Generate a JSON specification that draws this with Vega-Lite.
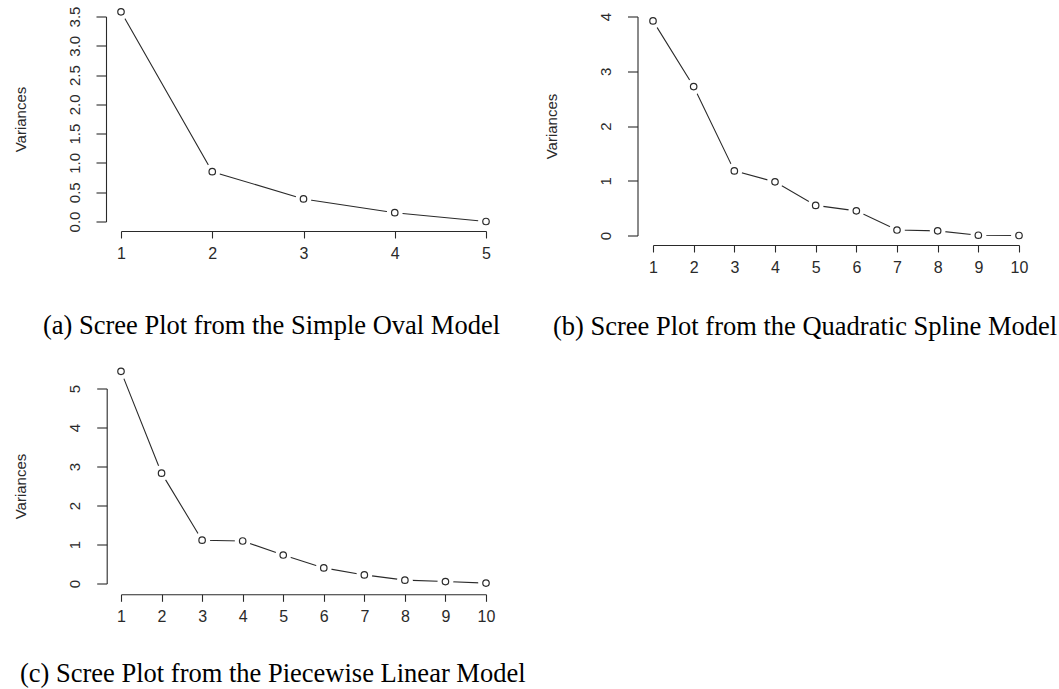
{
  "$schema": "https://vega.github.io/schema/vega-lite/v6.json",
  "background": "white",
  "padding": {"left": 13, "top": 3.5, "right": 5, "bottom": 5},
  "config": {
    "view": {"stroke": null},
    "axis": {"domainColor": "#2a2a2a", "tickColor": "#2a2a2a", "labelColor": "#2a2a2a", "titleColor": "#2a2a2a", "labelFont": "Liberation Sans", "titleFont": "Liberation Sans", "titleFontWeight": "normal", "grid": false, "domainWidth": 1.1, "tickWidth": 1.1},
    "axisX": {"tickSize": 7, "labelPadding": 7, "labelFontSize": 16, "labelAngle": 0, "labelFlush": false, "labelOverlap": false},
    "axisY": {"tickSize": 10, "labelPadding": 14, "labelFontSize": 15, "labelAngle": -90, "labelAlign": "center", "labelBaseline": "bottom", "titleFontSize": 15, "titlePadding": 39, "labelOverlap": false, "labelFlush": false},
    "title": {"font": "Liberation Serif", "fontSize": 26.5, "fontWeight": "normal", "color": "#000"}
  },
  "datasets": {
    "scree": [
      {"model": "a", "pc": 1, "variance": 3.58},
      {"model": "a", "pc": 2, "variance": 0.85},
      {"model": "a", "pc": 3, "variance": 0.385},
      {"model": "a", "pc": 4, "variance": 0.15},
      {"model": "a", "pc": 5, "variance": 0.0},
      {"model": "b", "pc": 1, "variance": 3.92},
      {"model": "b", "pc": 2, "variance": 2.72},
      {"model": "b", "pc": 3, "variance": 1.18},
      {"model": "b", "pc": 4, "variance": 0.98},
      {"model": "b", "pc": 5, "variance": 0.55},
      {"model": "b", "pc": 6, "variance": 0.45},
      {"model": "b", "pc": 7, "variance": 0.10},
      {"model": "b", "pc": 8, "variance": 0.085},
      {"model": "b", "pc": 9, "variance": 0.005},
      {"model": "b", "pc": 10, "variance": 0.0},
      {"model": "c", "pc": 1, "variance": 5.44},
      {"model": "c", "pc": 2, "variance": 2.83},
      {"model": "c", "pc": 3, "variance": 1.11},
      {"model": "c", "pc": 4, "variance": 1.09},
      {"model": "c", "pc": 5, "variance": 0.73},
      {"model": "c", "pc": 6, "variance": 0.40},
      {"model": "c", "pc": 7, "variance": 0.22},
      {"model": "c", "pc": 8, "variance": 0.086},
      {"model": "c", "pc": 9, "variance": 0.05},
      {"model": "c", "pc": 10, "variance": 0.01}
    ]
  },
  "bounds": "flush",
  "spacing": 372,
  "vconcat": [
    {
      "bounds": "flush",
      "spacing": 167,
      "hconcat": [
        {
          "width": 365,
          "height": 205,
          "data": {"name": "scree"},
          "transform": [{"filter": "datum.model == 'a'"}],
          "title": {"text": "(a) Scree Plot from the Simple Oval Model", "orient": "bottom", "anchor": "start", "frame": "group", "dx": -78, "offset": 52},
          "encoding": {
            "x": {"field": "pc", "type": "quantitative", "scale": {"domain": [1, 5], "nice": false, "zero": false}, "axis": {"values": [1, 2, 3, 4, 5], "format": "d", "offset": 9.5, "title": null, "labelFontSize": 16}},
            "y": {"field": "variance", "type": "quantitative", "scale": {"domain": [0, 3.5], "nice": false}, "axis": {"values": [0, 0.5, 1, 1.5, 2, 2.5, 3, 3.5], "format": ".1f", "offset": 15, "title": "Variances", "labelFontSize": 15, "titleFontSize": 15}}
          },
          "layer": [
            {"mark": {"type": "line", "color": "#2a2a2a", "strokeWidth": 1.1}},
            {"mark": {"type": "point", "shape": "circle", "filled": true, "color": "white", "opacity": 1, "size": 250}},
            {"mark": {"type": "point", "shape": "circle", "filled": false, "color": "#2a2a2a", "strokeWidth": 1.2, "opacity": 1, "size": 42}}
          ]
        },
        {
          "width": 366,
          "height": 219,
          "data": {"name": "scree"},
          "transform": [{"filter": "datum.model == 'b'"}],
          "title": {"text": "(b) Scree Plot from the Quadratic Spline Model", "orient": "bottom", "anchor": "start", "frame": "group", "dx": -100, "offset": 39},
          "encoding": {
            "x": {"field": "pc", "type": "quantitative", "scale": {"domain": [1, 10], "nice": false, "zero": false}, "axis": {"values": [1, 2, 3, 4, 5, 6, 7, 8, 9, 10], "format": "d", "offset": 9.5, "title": null, "labelFontSize": 16}},
            "y": {"field": "variance", "type": "quantitative", "scale": {"domain": [0, 4], "nice": false}, "axis": {"values": [0, 1, 2, 3, 4], "format": "d", "offset": 15.5, "title": "Variances", "labelFontSize": 15, "titleFontSize": 15}}
          },
          "layer": [
            {"mark": {"type": "line", "color": "#2a2a2a", "strokeWidth": 1.1}},
            {"mark": {"type": "point", "shape": "circle", "filled": true, "color": "white", "opacity": 1, "size": 250}},
            {"mark": {"type": "point", "shape": "circle", "filled": false, "color": "#2a2a2a", "strokeWidth": 1.2, "opacity": 1, "size": 42}}
          ]
        }
      ]
    },
    {
      "width": 365,
      "height": 195,
      "data": {"name": "scree"},
      "transform": [{"filter": "datum.model == 'c'"}],
      "title": {"text": "(c) Scree Plot from the Piecewise Linear Model", "orient": "bottom", "anchor": "start", "frame": "group", "dx": -101, "offset": 37},
      "encoding": {
        "x": {"field": "pc", "type": "quantitative", "scale": {"domain": [1, 10], "nice": false, "zero": false}, "axis": {"values": [1, 2, 3, 4, 5, 6, 7, 8, 9, 10], "format": "d", "offset": 10.8, "title": null, "labelFontSize": 16}},
        "y": {"field": "variance", "type": "quantitative", "scale": {"domain": [0, 5], "nice": false}, "axis": {"values": [0, 1, 2, 3, 4, 5], "format": "d", "offset": 14.3, "title": "Variances", "labelFontSize": 15, "titleFontSize": 15}}
      },
      "layer": [
        {"mark": {"type": "line", "color": "#2a2a2a", "strokeWidth": 1.1}},
        {"mark": {"type": "point", "shape": "circle", "filled": true, "color": "white", "opacity": 1, "size": 250}},
        {"mark": {"type": "point", "shape": "circle", "filled": false, "color": "#2a2a2a", "strokeWidth": 1.2, "opacity": 1, "size": 42}}
      ]
    }
  ]
}
